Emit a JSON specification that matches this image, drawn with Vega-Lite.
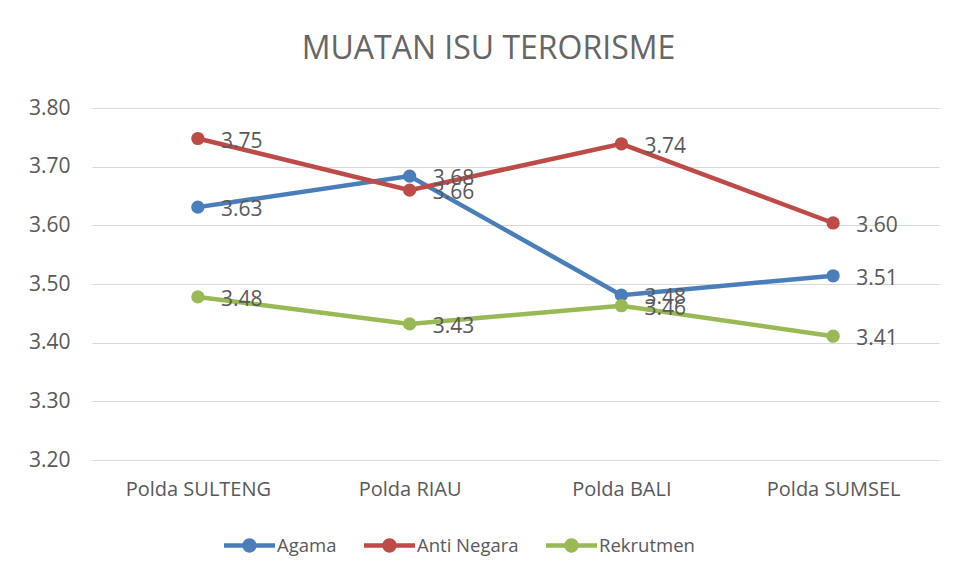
{
  "$schema": "https://vega.github.io/schema/vega-lite/v6.json",
  "width": 847,
  "height": 352,
  "autosize": {"type": "none"},
  "padding": {"left": 92, "top": 108, "right": 16, "bottom": 117},
  "background": "white",
  "title": {
    "text": "MUATAN ISU TERORISME",
    "font": "Open Sans",
    "fontSize": 32,
    "fontWeight": "normal",
    "color": "#666666",
    "anchor": "middle",
    "dx": -27,
    "offset": 6,
    "baseline": "alphabetic"
  },
  "config": {"view": {"stroke": null}, "font": "Open Sans"},
  "data": {
    "values": [
      {"polda": "Polda SULTENG", "seri": "Agama", "nilai": 3.631},
      {"polda": "Polda RIAU", "seri": "Agama", "nilai": 3.684},
      {"polda": "Polda BALI", "seri": "Agama", "nilai": 3.481},
      {"polda": "Polda SUMSEL", "seri": "Agama", "nilai": 3.514},
      {"polda": "Polda SULTENG", "seri": "Anti Negara", "nilai": 3.748},
      {"polda": "Polda RIAU", "seri": "Anti Negara", "nilai": 3.66},
      {"polda": "Polda BALI", "seri": "Anti Negara", "nilai": 3.739},
      {"polda": "Polda SUMSEL", "seri": "Anti Negara", "nilai": 3.604},
      {"polda": "Polda SULTENG", "seri": "Rekrutmen", "nilai": 3.478},
      {"polda": "Polda RIAU", "seri": "Rekrutmen", "nilai": 3.432},
      {"polda": "Polda BALI", "seri": "Rekrutmen", "nilai": 3.463},
      {"polda": "Polda SUMSEL", "seri": "Rekrutmen", "nilai": 3.411}
    ]
  },
  "encoding": {
    "x": {
      "field": "polda",
      "type": "nominal",
      "sort": null,
      "scale": {"type": "point", "padding": 0.5},
      "axis": {
        "title": null,
        "labelAngle": 0,
        "domain": false,
        "ticks": false,
        "labelFont": "Open Sans",
        "labelFontSize": 20,
        "labelColor": "#595959",
        "labelPadding": 19
      }
    },
    "y": {
      "field": "nilai",
      "type": "quantitative",
      "scale": {"domain": [3.2, 3.8], "nice": false, "zero": false},
      "axis": {
        "title": null,
        "values": [3.2, 3.3, 3.4, 3.5, 3.6, 3.7, 3.8],
        "format": ".2f",
        "domain": false,
        "ticks": false,
        "gridColor": "#D9D9D9",
        "gridWidth": 1,
        "labelFont": "Open Sans",
        "labelFontSize": 21,
        "labelColor": "#595959",
        "labelPadding": 22
      }
    },
    "color": {
      "field": "seri",
      "type": "nominal",
      "scale": {
        "domain": ["Agama", "Anti Negara", "Rekrutmen"],
        "range": ["#4A7EBB", "#BE4B48", "#98B954"]
      },
      "legend": {
        "orient": "none",
        "legendX": 132,
        "legendY": 412,
        "direction": "horizontal",
        "title": null,
        "symbolType": "M-1,-0.09H1V0.09H-1Z M-0.28,0A0.28,0.28,0,1,1,0.28,0A0.28,0.28,0,1,1,-0.28,0Z",
        "symbolSize": 2601,
        "symbolStrokeWidth": 0,
        "labelFont": "Open Sans",
        "labelFontSize": 18.5,
        "labelColor": "#595959",
        "labelOffset": 2,
        "columnPadding": 27,
        "encode": {
          "symbols": {
            "update": {
              "fill": {"scale": "color", "field": "value"},
              "stroke": {"value": "transparent"},
              "opacity": {"value": 1}
            }
          }
        }
      }
    }
  },
  "layer": [
    {"mark": {"type": "line", "strokeWidth": 4.5}},
    {"mark": {"type": "point", "filled": true, "size": 175, "opacity": 1}},
    {
      "mark": {"type": "text", "align": "left", "dx": 23, "dy": 3, "fontSize": 21, "font": "Open Sans"},
      "encoding": {
        "text": {"field": "nilai", "format": ".2f"},
        "color": {"value": "#595959"}
      }
    }
  ]
}
